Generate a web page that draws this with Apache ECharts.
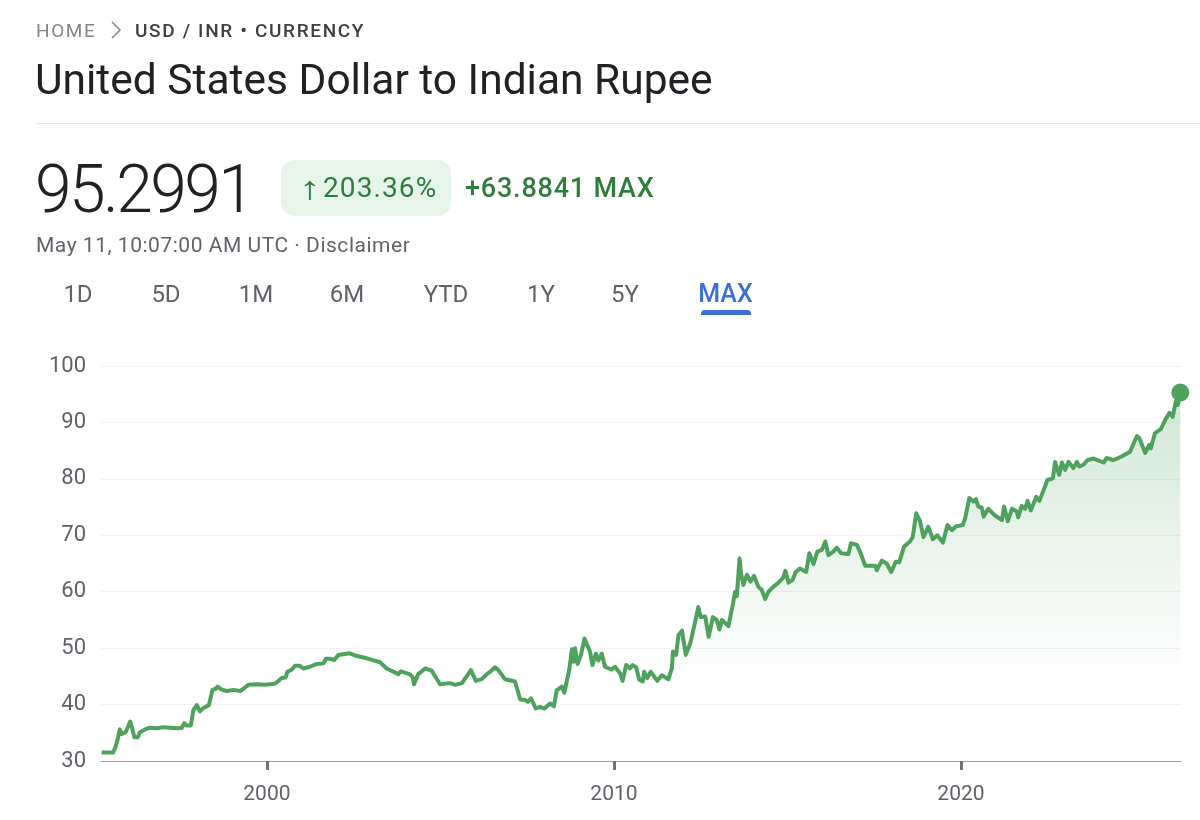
<!DOCTYPE html>
<html>
<head>
<meta charset="utf-8">
<title>USD / INR</title>
<script src="https://cdn.jsdelivr.net/npm/echarts@6/dist/echarts.min.js"></script>
<style>
  html, body { margin: 0; background: #fff; font-family: Roboto, sans-serif; }
  #page { position: relative; width: 1200px; height: 820px; overflow: hidden; }
  #main { position: absolute; left: 0; top: 0; width: 1200px; height: 820px; }
  .t { position: absolute; white-space: nowrap; line-height: 1; }
  #home { left: 36px; top: 21px; font-size: 19px; letter-spacing: 1.6px; color: #80868b; }
  #crumb { left: 135px; top: 21px; font-size: 19px; font-weight: 500; letter-spacing: 1.65px; color: #3c4043; }
  #chevron { position: absolute; left: 109px; top: 20px; }
  #title { left: 35px; top: 59px; font-size: 42.5px; color: #202124; }
  #rule { position: absolute; left: 35px; top: 123px; width: 1165px; height: 1px; background: #e6e7e8; }
  #price { left: 35px; top: 157px; font-size: 66px; font-weight: 300; letter-spacing: -2.6px; color: #202124; }
  #chip { position: absolute; left: 281px; top: 160px; width: 170px; height: 56px; border-radius: 14px; background: #e6f4ea; }
  #arrow { left: 299px; top: 172px; font-size: 32px; color: #2f7d3b; transform: scaleX(1.4); transform-origin: left center; }
  #pct { left: 323px; top: 174px; font-size: 28px; letter-spacing: 1.1px; color: #2f7d3b; }
  #change { left: 465px; top: 175px; font-size: 27px; font-weight: 500; color: #2f7d3b; letter-spacing: 0.8px; }
  #stamp { left: 36px; top: 235px; font-size: 21px; color: #5f6368; letter-spacing: 0.52px; }
  .tab { top: 282px; font-size: 24px; color: #5f6368; transform: translateX(-50%); }
  .tab.on { color: #3b6fd8; font-weight: 500; font-size: 25px; top: 281px; }
  #bar { position: absolute; left: 701px; top: 310px; width: 50px; height: 5px; border-radius: 4px 4px 0 0; background: #3b6fd8; }
</style>
</head>
<body>
<div id="page">
  <div id="main"></div>
  <div class="t" id="home">HOME</div>
  <svg id="chevron" width="14" height="20"><polyline points="3,2 11,10 3,18" fill="none" stroke="#80868b" stroke-width="1.5"/></svg>
  <div class="t" id="crumb">USD / INR • CURRENCY</div>
  <div class="t" id="title">United States Dollar to Indian Rupee</div>
  <div id="rule"></div>
  <div class="t" id="price"></div>
  <div id="chip"></div>
  <div class="t" id="arrow">↑</div>
  <div class="t" id="pct"></div>
  <div class="t" id="change"></div>
  <div class="t" id="stamp">May 11, 10:07:00 AM UTC · Disclaimer</div>
  <div id="bar"></div>
</div>
<script>
// 时间范围按钮
var tabNames = ['1D', '5D', '1M', '6M', 'YTD', '1Y', '5Y', 'MAX'];
var yTicks = [30, 40, 50, 60, 70, 80, 90, 100];
var xTicks = [2000, 2010, 2020];

// values, year as decimal
var years = [
  1995.24, 1995.57, 1995.64, 1995.70, 1995.76, 1995.82, 1995.93, 1996.06, 1996.12, 1996.18,
  1996.28, 1996.34, 1996.49, 1996.63, 1996.83, 1997.02, 1997.21, 1997.45, 1997.55, 1997.62,
  1997.69, 1997.81, 1997.88, 1997.98, 1998.07, 1998.17, 1998.33, 1998.43, 1998.53, 1998.58,
  1998.68, 1998.84, 1999.03, 1999.23, 1999.47, 1999.71, 1999.95, 2000.23, 2000.43, 2000.54,
  2000.59, 2000.72, 2000.81, 2000.94, 2001.05, 2001.24, 2001.44, 2001.63, 2001.70, 2001.82,
  2001.94, 2002.06, 2002.37, 2002.59, 2002.88, 2003.26, 2003.45, 2003.79, 2003.86, 2004.11,
  2004.20, 2004.24, 2004.36, 2004.56, 2004.75, 2004.99, 2005.28, 2005.42, 2005.62, 2005.88,
  2006.02, 2006.19, 2006.34, 2006.43, 2006.57, 2006.67, 2006.86, 2007.15, 2007.30, 2007.44,
  2007.52, 2007.61, 2007.75, 2007.87, 2008.00, 2008.16, 2008.27, 2008.35, 2008.50, 2008.57,
  2008.71, 2008.79, 2008.83, 2008.88, 2008.95, 2009.05, 2009.15, 2009.31, 2009.38, 2009.48,
  2009.55, 2009.65, 2009.74, 2009.94, 2010.03, 2010.18, 2010.25, 2010.35, 2010.46, 2010.54,
  2010.64, 2010.73, 2010.83, 2010.87, 2010.96, 2011.06, 2011.25, 2011.38, 2011.57, 2011.67,
  2011.70, 2011.79, 2011.86, 2011.96, 2012.07, 2012.21, 2012.37, 2012.43, 2012.50, 2012.63,
  2012.73, 2012.85, 2012.96, 2013.04, 2013.11, 2013.30, 2013.43, 2013.49, 2013.54, 2013.62,
  2013.66, 2013.73, 2013.83, 2013.94, 2014.04, 2014.16, 2014.26, 2014.36, 2014.45, 2014.60,
  2014.74, 2014.87, 2014.94, 2015.03, 2015.15, 2015.23, 2015.36, 2015.54, 2015.63, 2015.75,
  2015.86, 2015.99, 2016.09, 2016.18, 2016.32, 2016.42, 2016.55, 2016.76, 2016.83, 2017.00,
  2017.11, 2017.24, 2017.53, 2017.57, 2017.72, 2017.86, 2017.99, 2018.12, 2018.22, 2018.36,
  2018.53, 2018.61, 2018.71, 2018.82, 2018.92, 2019.06, 2019.19, 2019.32, 2019.48, 2019.61,
  2019.74, 2019.86, 2020.05, 2020.12, 2020.24, 2020.36, 2020.43, 2020.50, 2020.60, 2020.65,
  2020.79, 2020.96, 2021.18, 2021.24, 2021.35, 2021.47, 2021.61, 2021.65, 2021.75, 2021.85,
  2021.92, 2022.01, 2022.17, 2022.26, 2022.38, 2022.49, 2022.65, 2022.71, 2022.83, 2022.91,
  2023.00, 2023.10, 2023.24, 2023.34, 2023.41, 2023.53, 2023.64, 2023.82, 2024.11, 2024.20,
  2024.39, 2024.64, 2024.87, 2025.07, 2025.14, 2025.31, 2025.42, 2025.47, 2025.59, 2025.76,
  2025.88, 2026.01, 2026.10, 2026.19, 2026.25, 2026.32
];
var rates = [
  31.5, 31.5, 32.5, 33.8, 35.6, 34.8, 35.1, 37.0, 35.8, 34.2,
  34.2, 35.1, 35.6, 35.9, 35.8, 36.0, 35.9, 35.8, 35.9, 36.7,
  36.3, 36.3, 39.0, 39.9, 38.8, 39.4, 39.9, 42.6, 42.8, 43.2,
  42.7, 42.4, 42.6, 42.4, 43.5, 43.6, 43.5, 43.7, 44.7, 44.8,
  45.8, 46.2, 46.9, 46.9, 46.4, 46.7, 47.2, 47.3, 48.1, 48.1,
  47.9, 48.8, 49.1, 48.6, 48.2, 47.5, 46.4, 45.4, 45.9, 45.4,
  44.9, 43.6, 45.4, 46.4, 46.0, 43.6, 43.8, 43.5, 43.8, 46.1,
  44.2, 44.5, 45.4, 45.8, 46.6, 46.1, 44.5, 44.1, 40.9, 40.8,
  40.5, 41.1, 39.3, 39.6, 39.3, 40.2, 39.7, 42.5, 43.2, 42.1,
  46.1, 49.8, 47.6, 50.0, 47.2, 48.8, 51.7, 49.4, 47.0, 49.0,
  47.8, 49.0, 46.7, 46.2, 46.7, 45.5, 44.2, 47.0, 46.4, 47.0,
  46.6, 44.4, 44.1, 45.8, 44.7, 45.8, 44.2, 45.2, 44.5, 46.4,
  49.4, 48.8, 52.3, 53.1, 48.8, 51.1, 55.5, 57.3, 55.5, 55.6,
  52.0, 55.5, 55.0, 53.3, 55.0, 53.9, 57.9, 60.0, 59.2, 65.9,
  63.3, 61.2, 63.0, 61.8, 62.8, 60.9, 60.3, 58.7, 60.0, 60.9,
  61.6, 62.4, 63.7, 61.6, 62.1, 63.4, 64.1, 63.5, 66.8, 64.9,
  67.1, 67.4, 68.9, 66.5, 67.1, 67.8, 66.8, 66.7, 68.6, 68.3,
  66.8, 64.6, 64.6, 63.8, 65.5, 65.0, 63.5, 65.3, 65.2, 68.0,
  68.9, 69.7, 73.9, 72.5, 69.7, 71.5, 69.3, 70.0, 68.7, 71.8,
  70.9, 71.6, 71.8, 73.0, 76.6, 76.0, 76.4, 75.1, 74.9, 73.3,
  74.7, 73.6, 72.7, 75.1, 72.5, 74.7, 74.2, 73.2, 75.2, 74.7,
  76.1, 74.4, 76.8, 76.1, 78.0, 79.8, 80.1, 83.0, 80.7, 82.9,
  81.6, 83.0, 81.9, 83.0, 82.2, 82.5, 83.3, 83.6, 82.9, 83.7,
  83.3, 84.0, 84.8, 87.6, 87.2, 84.6, 86.0, 85.4, 88.1, 88.8,
  90.4, 91.7, 91.0, 93.7, 93.1, 95.2991
];
var lastPrice = '95.2991';
var pctChange = '203.36%';
var absChange = '+63.8841 MAX';

document.getElementById('price').textContent = lastPrice;
document.getElementById('pct').textContent = pctChange;
document.getElementById('change').textContent = absChange;

// 按钮中心位置
var tabCenters = [78, 166, 256, 347, 446, 541, 625, 725.5];
tabNames.forEach(function (name, i) {
  var el = document.createElement('div');
  el.className = 't tab' + (name === 'MAX' ? ' on' : '');
  el.style.left = tabCenters[i] + 'px';
  el.textContent = name;
  document.getElementById('page').appendChild(el);
});

var lineData = years.map(function (y, i) {
  return [y, rates[i]];
});

var option = {
  animation: false,
  grid: { left: 101, right: 19, top: 366, bottom: 59 },
  xAxis: {
    type: 'value',
    min: 1995.22,
    max: 2026.34,
    axisLine: { show: true, onZero: false, lineStyle: { color: '#9aa0a6', width: 1 } },
    axisTick: {
      show: true,
      customValues: xTicks,
      length: 9,
      lineStyle: { color: '#70757a', width: 3 }
    },
    axisLabel: {
      customValues: xTicks,
      margin: 23,
      color: '#5f6368',
      fontFamily: 'Roboto',
      fontSize: 21,
      formatter: function (v) {
        return String(v);
      }
    },
    splitLine: { show: false }
  },
  yAxis: {
    type: 'value',
    min: yTicks[0],
    max: yTicks[yTicks.length - 1],
    interval: 10,
    axisLine: { show: false },
    axisTick: { show: false },
    axisLabel: {
      margin: 15,
      color: '#5f6368',
      fontFamily: 'Roboto',
      fontSize: 22,
      padding: [7, 0, 0, 0]
    },
    splitLine: { lineStyle: { color: '#f1f2f3', width: 1 } }
  },
  series: [{
    name: 'USD/INR',
    type: 'line',
    data: lineData,
    showSymbol: false,
    symbol: 'none',
    smooth: false,
    lineStyle: { color: '#4ea25c', width: 4, join: 'round' },
    areaStyle: {
      color: {
        type: 'linear',
        x: 0, y: 0, x2: 0, y2: 1,
        colorStops: [
          { offset: 0, color: 'rgba(78,162,92,0.36)' },
          { offset: 0.5, color: 'rgba(78,162,92,0.13)' },
          { offset: 0.78, color: 'rgba(78,162,92,0)' },
          { offset: 1, color: 'rgba(78,162,92,0)' }
        ]
      }
    }
  }, {
    name: 'last',
    type: 'scatter',
    data: [lineData[lineData.length - 1]],
    symbolSize: 18,
    clip: false,
    itemStyle: { color: '#4ea25c', opacity: 1 }
  }]
};

var myChart = echarts.init(document.getElementById('main'));
myChart.setOption(option);
</script>
</body>
</html>
